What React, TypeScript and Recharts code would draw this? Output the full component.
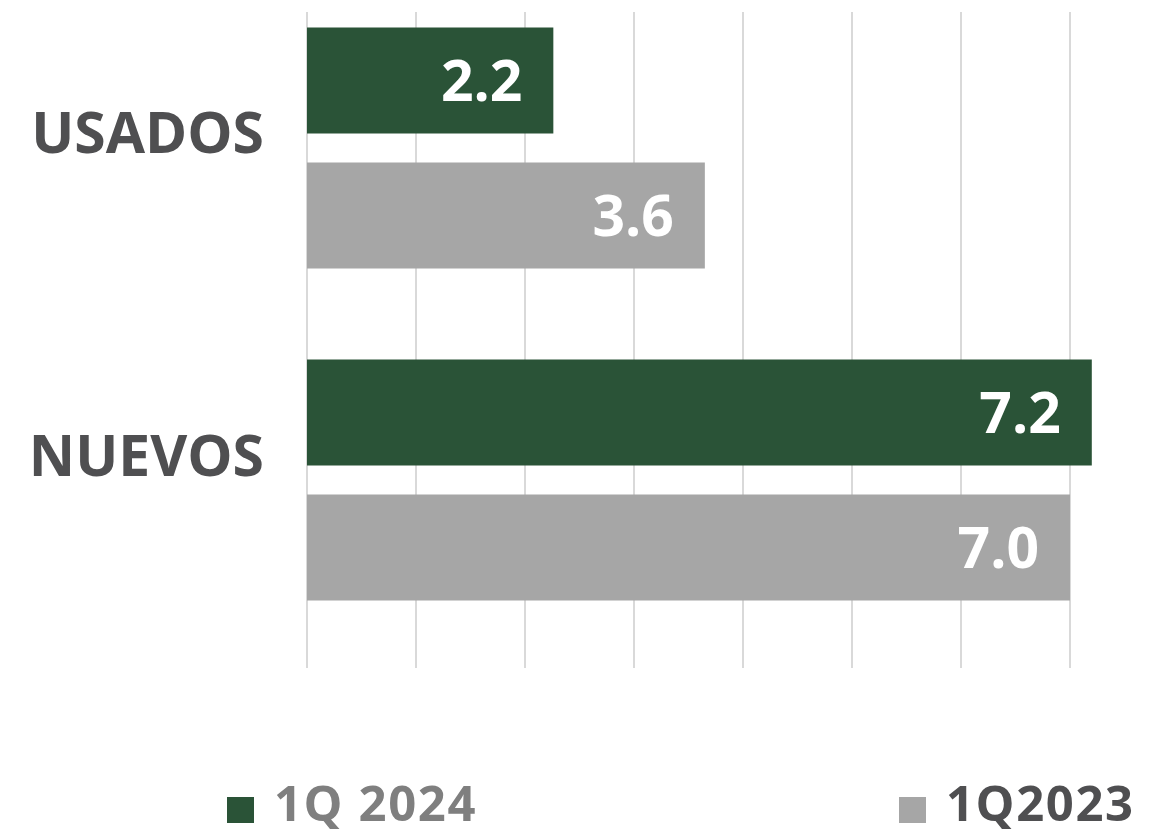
import React from "react";
import { BarChart, Bar, XAxis, YAxis, CartesianGrid, LabelList } from "recharts";

const categories = ["USADOS", "NUEVOS"];
const values2024 = [2.26, 7.2];
const values2023 = [3.65, 7.0];
const xTicks = [0, 1, 2, 3, 4, 5, 6, 7];

const series = [
  { key: "q2024", name: "1Q 2024", color: "#2a5337", text: "#7f7f7f" },
  { key: "q2023", name: "1Q2023", color: "#a6a6a6", text: "#4f4f51" },
];

const data = categories.map((name, i) => ({
  name,
  q2024: values2024[i],
  q2023: values2023[i],
}));

const FONT = "'Open Sans', 'Noto Sans', sans-serif";

// labels in the source are cut to one decimal, not rounded
const fmt = (v: number) => (Math.floor(v * 10 + 1e-6) / 10).toFixed(1);

const CategoryTick = (props: any) => {
  const { x, y, payload, index } = props;
  const dy = index === 0 ? 5 : -4;
  return (
    <text
      x={x - 35}
      y={y + dy}
      textAnchor="end"
      fontFamily={FONT}
      fontWeight={700}
      fontSize={57}
      fill="#4f4f51"
    >
      {payload.value}
    </text>
  );
};

const ValueLabel = (props: any) => {
  const { x, y, width, height, value } = props;
  return (
    <text
      x={x + width - 31}
      y={y + height / 2 + 20.5}
      textAnchor="end"
      fontFamily={FONT}
      fontWeight={700}
      fontSize={57}
      fill="#ffffff"
    >
      {fmt(value)}
    </text>
  );
};

const legendX = [227, 899];

export default function App() {
  return (
    <div
      style={{
        position: "absolute",
        left: 0,
        top: 0,
        width: 1169,
        height: 836,
        overflow: "hidden",
        background: "#fff",
      }}
    >
      <BarChart
        width={1190}
        height={836}
        data={data}
        layout="vertical"
        margin={{ top: 12, right: 11, bottom: 168, left: 0 }}
        barGap={29}
      >
        <CartesianGrid
          horizontal={false}
          stroke="#d9d9d9"
          strokeWidth={2}
          y={12}
          height={656}
        />
        <XAxis type="number" domain={[0, 8]} ticks={xTicks} hide />
        <YAxis
          type="category"
          dataKey="name"
          width={307}
          axisLine={false}
          tickLine={false}
          padding={{ top: -30.5, bottom: 22.5 }}
          tick={<CategoryTick />}
        />
        {series.map((s) => (
          <Bar
            key={s.key}
            dataKey={s.key}
            name={s.name}
            fill={s.color}
            barSize={106}
            isAnimationActive={false}
          >
            <LabelList dataKey={s.key} content={<ValueLabel />} />
          </Bar>
        ))}
      </BarChart>
      <svg
        width={1169}
        height={836}
        style={{ position: "absolute", left: 0, top: 0, pointerEvents: "none" }}
      >
        {series.map((s, i) => (
          <g key={s.key}>
            <rect x={legendX[i]} y={797} width={27} height={26} fill={s.color} />
            <text
              x={legendX[i] + 47}
              y={821}
              fontFamily={FONT}
              fontWeight={700}
              fontSize={49}
              letterSpacing={1.6}
              fill={s.text}
            >
              {s.name}
            </text>
          </g>
        ))}
      </svg>
    </div>
  );
}
